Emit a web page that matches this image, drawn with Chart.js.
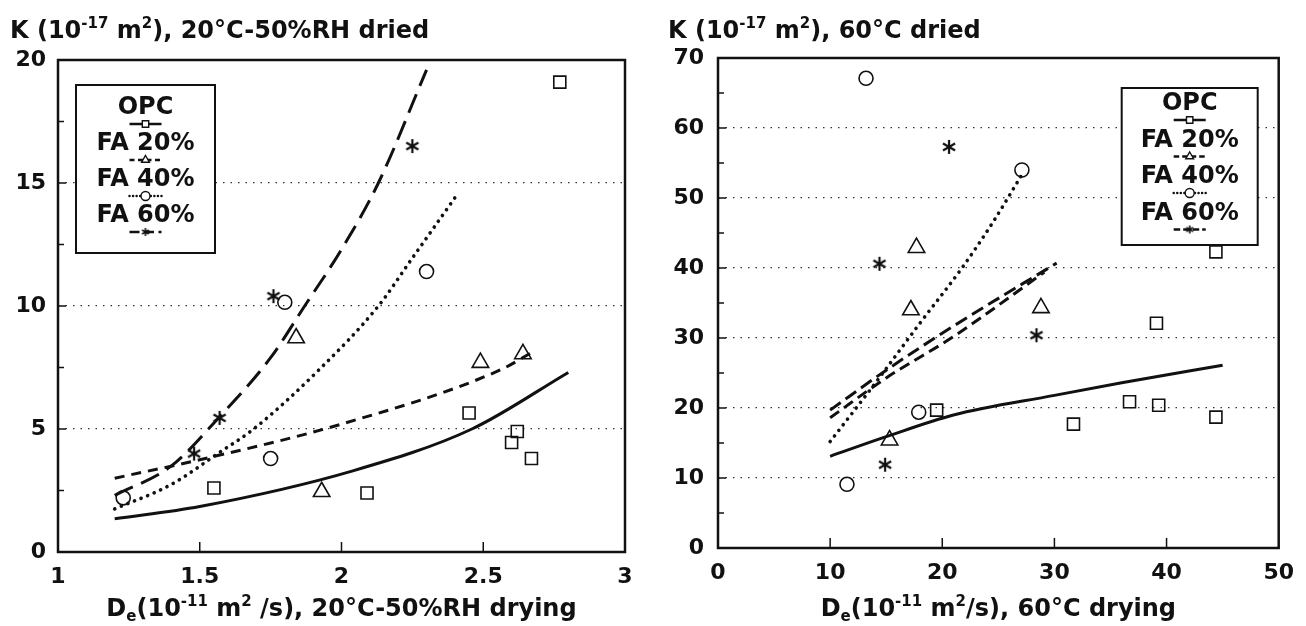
<!DOCTYPE html>
<html>
<head>
<meta charset="utf-8">
<script src="https://cdn.jsdelivr.net/npm/chart.js@4.4.1/dist/chart.umd.min.js"></script>
<style>
  body { margin: 0; background: #fff; }
  .panel { position: absolute; top: 0; width: 653px; height: 626px; }
</style>
</head>
<body>
<div class="panel" style="left:0"><canvas id="rhChart" width="653" height="626"></canvas></div>
<div class="panel" style="left:653px"><canvas id="hotChart" width="653" height="626"></canvas></div>
<script>
const mixes = ['OPC', 'FA 20%', 'FA 40%', 'FA 60%'];

// 20°C-50%RH drying: measured K against De
const rhOpcX = [1.55, 2.09, 2.45, 2.62, 2.60, 2.67, 2.77];
const rhOpcY = [2.6, 2.4, 5.65, 4.9, 4.45, 3.8, 19.1];
const rhFa20X = [1.84, 1.93, 2.49, 2.64];
const rhFa20Y = [8.7, 2.45, 7.7, 8.05];
const rhFa40X = [1.23, 1.75, 1.80, 2.30];
const rhFa40Y = [2.2, 3.8, 10.15, 11.4];
const rhFa60X = [1.48, 1.57, 1.76, 2.25];
const rhFa60Y = [4.0, 5.45, 10.4, 16.5];

// 20°C-50%RH drying: regression curves
const rhOpcFitX = [1.2, 1.5, 2.04, 2.46, 2.8];
const rhOpcFitY = [1.35, 1.85, 3.3, 5.0, 7.3];
const rhFa20FitX = [1.2, 1.5, 2.0, 2.56, 2.67];
const rhFa20FitY = [3.0, 3.75, 5.2, 7.4, 8.1];
const rhFa40FitX = [1.2, 1.4, 1.57, 1.69, 1.92, 2.13, 2.25, 2.4];
const rhFa40FitY = [1.75, 2.75, 4.05, 5.0, 7.4, 10.0, 11.95, 14.4];
const rhFa60FitX = [1.2, 1.4, 1.57, 1.75, 1.87, 2.0, 2.13, 2.3];
const rhFa60FitY = [2.3, 3.5, 5.5, 7.9, 10.0, 12.3, 15.0, 19.6];

// 60°C drying: measured K against De
const hotOpcX = [19.5, 31.7, 36.7, 39.3, 44.4, 39.1, 44.4];
const hotOpcY = [19.7, 17.7, 20.9, 20.4, 18.7, 32.1, 42.3];
const hotFa20X = [15.3, 17.2, 17.7, 28.8];
const hotFa20Y = [15.4, 34.0, 42.9, 34.3];
const hotFa40X = [11.5, 13.2, 17.9, 27.1];
const hotFa40Y = [9.1, 67.1, 19.4, 54.0];
const hotFa60X = [14.9, 14.4, 20.6, 28.4];
const hotFa60Y = [11.9, 40.6, 57.3, 30.4];

// 60°C drying: regression curves
const hotOpcFitX = [10, 15, 21, 30, 36, 45];
const hotOpcFitY = [13.1, 15.9, 19.0, 21.8, 23.6, 26.1];
const hotFa20FitX = [10, 15, 20.9, 29.1];
const hotFa20FitY = [18.6, 24.3, 30.1, 39.4];
const hotFa40FitX = [10, 14, 18, 21.8, 24.5, 27.2];
const hotFa40FitY = [15.2, 23.5, 32.1, 40.1, 46.5, 53.6];
const hotFa60FitX = [10, 15, 20.9, 30.2];
const hotFa60FitY = [19.7, 25.4, 31.6, 40.7];

const INK = '#111';
const FONT = 'DejaVu Sans';

// six-spoke asterisk used for the FA 60% points
function asterisk(size, width) {
  const c = document.createElement('canvas');
  c.width = c.height = size;
  const g = c.getContext('2d');
  const r = size / 2 - 1;
  g.strokeStyle = INK;
  g.lineWidth = width;
  g.lineCap = 'butt';
  for (let k = 0; k < 3; k++) {
    const ang = Math.PI / 2 + k * Math.PI / 3;
    g.beginPath();
    g.moveTo(size / 2 + Math.cos(ang) * r, size / 2 + Math.sin(ang) * r);
    g.lineTo(size / 2 - Math.cos(ang) * r, size / 2 - Math.sin(ang) * r);
    g.stroke();
  }
  return c;
}

const starBig = asterisk(16, 2.2);
const starSmall = asterisk(10, 1.6);
const marks = ['rect', 'triangle', 'circle', starBig];
const legendMarks = ['rect', 'triangle', 'circle', starSmall];
const markSize = [8.5, 9.5, 7, 8];

function pts(xs, ys) {
  return xs.map((x, i) => ({x: x, y: ys[i]}));
}

function markers(xs, ys, i) {
  return {
    label: mixes[i], data: pts(xs, ys), showLine: false,
    pointStyle: marks[i], pointRadius: markSize[i],
    pointBorderColor: INK, pointBackgroundColor: 'rgba(0,0,0,0)', pointBorderWidth: 1.6
  };
}

function curve(xs, ys, dash, width) {
  return {
    data: pts(xs, ys), showLine: true, pointRadius: 0,
    borderColor: INK, borderWidth: width, borderDash: dash,
    borderCapStyle: dash.length && dash[0] < 1 ? 'round' : 'butt',
    cubicInterpolationMode: 'monotone', fill: false
  };
}

// text with superscript / subscript pieces
function drawRich(ctx, parts, x, y, size, align) {
  const small = Math.round(size * 0.62);
  const fontOf = p => 'bold ' + (p[1] ? small : size) + 'px "' + FONT + '"';
  let total = 0;
  parts.forEach(p => { ctx.font = fontOf(p); total += ctx.measureText(p[0]).width; });
  let cx = align === 'center' ? x - total / 2 : x;
  ctx.textBaseline = 'alphabetic';
  ctx.textAlign = 'left';
  ctx.fillStyle = INK;
  parts.forEach(p => {
    ctx.font = fontOf(p);
    const dy = p[1] === 'sup' ? -size * 0.42 : p[1] === 'sub' ? size * 0.22 : 0;
    ctx.fillText(p[0], cx, y + dy);
    cx += ctx.measureText(p[0]).width;
  });
}

// frame, inward ticks, axis titles and boxed legend
const framePlugin = {
  id: 'frame',
  afterDraw(chart, args, opts) {
    const ctx = chart.ctx;
    const a = chart.chartArea;
    const xs = chart.scales.x, ys = chart.scales.y;
    ctx.save();
    ctx.strokeStyle = INK;

    // y ticks: majors and half-step minors on the left edge
    ctx.lineWidth = 1.5;
    const yStep = opts.yStep;
    for (let v = ys.min + yStep / 2; v < ys.max; v += yStep / 2) {
      const py = ys.getPixelForValue(v);
      const major = Math.abs(v / yStep - Math.round(v / yStep)) < 1e-6;
      ctx.beginPath();
      ctx.moveTo(a.left, py);
      ctx.lineTo(a.left + (major ? 8 : 6), py);
      ctx.stroke();
    }
    // x ticks pointing up into the plot
    xs.ticks.forEach(t => {
      if (t.value <= xs.min || t.value >= xs.max) return;
      const px = xs.getPixelForValue(t.value);
      ctx.beginPath();
      ctx.moveTo(px, a.bottom);
      ctx.lineTo(px, a.bottom - 10);
      ctx.stroke();
    });

    // plot frame
    ctx.lineWidth = 2.5;
    ctx.strokeRect(a.left, a.top, a.right - a.left, a.bottom - a.top);

    // axis titles
    drawRich(ctx, opts.yTitle, opts.yTitleX, 38, 24, 'left');
    drawRich(ctx, opts.xTitle, (a.left + a.right) / 2, 616, 24, 'center');

    // legend box
    const L = opts.legend;
    const bx = L.fromRight ? a.right - L.dx - L.w : a.left + L.dx;
    const by = a.top + L.dy;
    ctx.fillStyle = '#fff';
    ctx.fillRect(bx, by, L.w, L.h);
    ctx.lineWidth = 2;
    ctx.strokeRect(bx, by, L.w, L.h);
    const cx = bx + L.w / 2;
    mixes.forEach((name, i) => {
      const ty = by + L.first + i * L.pitch;
      ctx.fillStyle = INK;
      ctx.font = 'bold 24px "' + FONT + '"';
      ctx.textAlign = 'center';
      ctx.textBaseline = 'middle';
      ctx.fillText(name, cx, ty);
      const ly = ty + 16;
      const ds = chart.data.datasets[opts.curveIndex[i]];
      ctx.save();
      ctx.lineWidth = 2.5;
      ctx.setLineDash(ds.borderDash.length ? ds.borderDash.map(d => d * 0.5) : []);
      ctx.lineCap = ds.borderCapStyle;
      ctx.beginPath();
      ctx.moveTo(cx - 16, ly);
      ctx.lineTo(cx + 16, ly);
      ctx.stroke();
      ctx.restore();
      ctx.lineWidth = 1.4;
      ctx.fillStyle = '#fff';
      Chart.helpers.drawPoint(ctx, {pointStyle: legendMarks[i], radius: 4.5, borderWidth: 1.4}, cx, ly);
    });
    ctx.restore();
  }
};

function axisFont(size) {
  return {family: FONT, weight: 'bold', size: size};
}

function makeChart(id, cfg) {
  return new Chart(document.getElementById(id), {
    type: 'scatter',
    data: {datasets: cfg.datasets},
    plugins: [framePlugin],
    options: {
      responsive: false,
      animation: false,
      devicePixelRatio: 1,
      layout: {padding: {top: cfg.top, right: cfg.right, left: 0, bottom: 0}},
      plugins: {
        legend: {display: false},
        tooltip: {enabled: false},
        frame: cfg.frame
      },
      scales: {
        x: {
          type: 'linear', min: cfg.xMin, max: cfg.xMax,
          ticks: {stepSize: cfg.xStep, color: INK, font: axisFont(22), padding: 12, maxRotation: 0,
                  callback: v => String(v)},
          grid: {display: false, drawTicks: false},
          border: {display: false},
          afterFit: s => { s.height = cfg.xAxisHeight; }
        },
        y: {
          type: 'linear', min: cfg.yMin, max: cfg.yMax,
          ticks: {stepSize: cfg.yStep, color: INK, font: axisFont(22), padding: cfg.yPad},
          grid: {
            drawTicks: false, lineWidth: 1.3,
            color: c => (c.tick && c.tick.value > cfg.yMin && c.tick.value < cfg.yMax) ? '#333' : 'rgba(0,0,0,0)'
          },
          border: {display: false, dash: [1.5, 6]},
          afterFit: s => { s.width = cfg.yAxisWidth; }
        }
      }
    }
  });
}

const sup = t => [t, 'sup'];
const sub = t => [t, 'sub'];

makeChart('rhChart', {
  datasets: [
    curve(rhOpcFitX, rhOpcFitY, [], 3),
    curve(rhFa20FitX, rhFa20FitY, [10, 7], 3),
    curve(rhFa40FitX, rhFa40FitY, [0.1, 7], 3.6),
    curve(rhFa60FitX, rhFa60FitY, [20, 9], 3),
    markers(rhOpcX, rhOpcY, 0),
    markers(rhFa20X, rhFa20Y, 1),
    markers(rhFa40X, rhFa40Y, 2),
    markers(rhFa60X, rhFa60Y, 3)
  ],
  xMin: 1, xMax: 3, xStep: 0.5,
  yMin: 0, yMax: 20, yStep: 5,
  top: 60, right: 28, xAxisHeight: 74, yAxisWidth: 58, yPad: 12,
  frame: {
    yStep: 5,
    curveIndex: [0, 1, 2, 3],
    yTitleX: 10,
    yTitle: [['K (10'], sup('-17'), [' m'], sup('2'), ['), 20°C-50%RH dried']],
    xTitle: [['D'], sub('e'), ['(10'], sup('-11'), [' m'], sup('2'), [' /s), 20°C-50%RH drying']],
    legend: {fromRight: false, dx: 18, dy: 25, w: 139, h: 168, first: 23, pitch: 36}
  }
});

makeChart('hotChart', {
  datasets: [
    curve(hotOpcFitX, hotOpcFitY, [], 3),
    curve(hotFa20FitX, hotFa20FitY, [11, 6], 3),
    curve(hotFa40FitX, hotFa40FitY, [0.1, 7], 3.6),
    curve(hotFa60FitX, hotFa60FitY, [13, 6], 3),
    markers(hotOpcX, hotOpcY, 0),
    markers(hotFa20X, hotFa20Y, 1),
    markers(hotFa40X, hotFa40Y, 2),
    markers(hotFa60X, hotFa60Y, 3)
  ],
  xMin: 0, xMax: 50, xStep: 10,
  yMin: 0, yMax: 70, yStep: 10,
  top: 58, right: 26, xAxisHeight: 78, yAxisWidth: 65, yPad: 14,
  frame: {
    yStep: 10,
    curveIndex: [0, 1, 2, 3],
    yTitleX: 15,
    yTitle: [['K (10'], sup('-17'), [' m'], sup('2'), ['), 60°C dried']],
    xTitle: [['D'], sub('e'), ['(10'], sup('-11'), [' m'], sup('2'), ['/s), 60°C drying']],
    legend: {fromRight: true, dx: 21, dy: 30, w: 136, h: 157, first: 16, pitch: 36.5}
  }
});
</script>
</body>
</html>
